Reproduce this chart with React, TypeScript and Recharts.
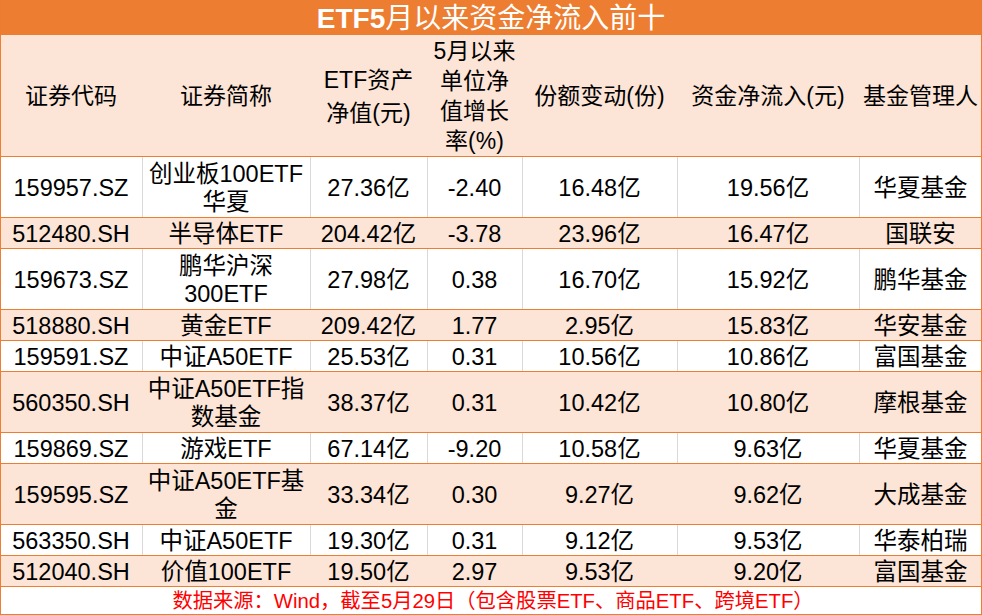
import React from "react";
import {
  ScatterChart,
  Scatter,
  XAxis,
  YAxis,
  ReferenceArea,
  ReferenceLine,
} from "recharts";

const TITLE = "ETF5月以来资金净流入前十";
const TITLE_BOLD = "ETF5";
const FOOTER = "数据来源：Wind，截至5月29日（包含股票ETF、商品ETF、跨境ETF）";

const headers = [
  ["证券代码"],
  ["证券简称"],
  ["ETF资产", "净值(元)"],
  ["5月以来", "单位净", "值增长", "率(%)"],
  ["份额变动(份)"],
  ["资金净流入(元)"],
  ["基金管理人"],
];

const codes = [
  "159957.SZ", "512480.SH", "159673.SZ", "518880.SH", "159591.SZ",
  "560350.SH", "159869.SZ", "159595.SZ", "563350.SH", "512040.SH",
];
const names = [
  "创业板100ETF\n华夏", "半导体ETF", "鹏华沪深\n300ETF", "黄金ETF", "中证A50ETF",
  "中证A50ETF指\n数基金", "游戏ETF", "中证A50ETF基\n金", "中证A50ETF", "价值100ETF",
];
const netAssets = [27.36, 204.42, 27.98, 209.42, 25.53, 38.37, 67.14, 33.34, 19.3, 19.5];
const growth = [-2.4, -3.78, 0.38, 1.77, 0.31, 0.31, -9.2, 0.3, 0.31, 2.97];
const shareChange = [16.48, 23.96, 16.7, 2.95, 10.56, 10.42, 10.58, 9.27, 9.12, 9.53];
const netInflow = [19.56, 16.47, 15.92, 15.83, 10.86, 10.8, 9.63, 9.62, 9.53, 9.2];
const managers = [
  "华夏基金", "国联安", "鹏华基金", "华安基金", "富国基金",
  "摩根基金", "华夏基金", "大成基金", "华泰柏瑞", "富国基金",
];

// layout
const W = 982;
const H = 615;
const COL_W = [142, 168, 117, 95, 155, 182, 123];
const TITLE_H = 35;
const HEADER_H = 122;
const ROW_H_SINGLE = 31;
const ROW_H_DOUBLE = 61;
const HEADER_LH = [0, 0, 33, 30, 0, 0, 0];
const BODY_LH = 28;
const BODY_SIZE = 23.5;

const ORANGE = "#ED7D31";
const PEACH = "#FCE4D6";
const GRID = "#D9D9D9";
const FONT = "'Liberation Sans', Arial, 'Noto Sans CJK SC', sans-serif";

const yi = (v: number) => `${v.toFixed(2)}亿`;

const colEdges = COL_W.reduce<number[]>((acc, w) => [...acc, acc[acc.length - 1] + w], [0]);
const rowLines = names.map((n) => n.split("\n"));
const rowHeights = rowLines.map((l) => (l.length > 1 ? ROW_H_DOUBLE : ROW_H_SINGLE));
const rowEdges = rowHeights.reduce<number[]>(
  (acc, h) => [...acc, acc[acc.length - 1] + h],
  [TITLE_H + HEADER_H]
);
const bodyBottom = rowEdges[rowEdges.length - 1];

type Cell = {
  x: number;
  y: number;
  lines: string[];
  size: number;
  color: string;
  lh: number;
  title?: boolean;
};

const cells: Cell[] = [];
cells.push({ x: W / 2, y: TITLE_H / 2, lines: [TITLE], size: 28, color: "#fff", lh: 0, title: true });
headers.forEach((h, c) =>
  cells.push({
    x: (colEdges[c] + colEdges[c + 1]) / 2,
    y: TITLE_H + HEADER_H / 2,
    lines: h,
    size: 23,
    color: "#000",
    lh: HEADER_LH[c],
  })
);
codes.forEach((code, r) => {
  const texts = [
    [code],
    rowLines[r],
    [yi(netAssets[r])],
    [growth[r].toFixed(2)],
    [yi(shareChange[r])],
    [yi(netInflow[r])],
    [managers[r]],
  ];
  texts.forEach((t, c) =>
    cells.push({
      x: (colEdges[c] + colEdges[c + 1]) / 2,
      y: (rowEdges[r] + rowEdges[r + 1]) / 2,
      lines: t,
      size: BODY_SIZE,
      color: "#000",
      lh: BODY_LH,
    })
  );
});
cells.push({ x: W / 2 + 2, y: (bodyBottom + H) / 2, lines: [FOOTER], size: 20.3, color: "#FF0000", lh: 0 });

function CellText(props: any) {
  const { cx, cy, payload } = props;
  if (cx == null || cy == null) return null;
  const { lines, size, color, lh, title } = payload as Cell;
  const top = cy - ((lines.length - 1) * lh) / 2;
  if (title) {
    return (
      <text x={cx} y={cy} dy="0.36em" textAnchor="middle" fill={color} fontSize={size} fontFamily={FONT}>
        <tspan fontWeight="bold">{TITLE_BOLD}</tspan>
        <tspan>{lines[0].slice(TITLE_BOLD.length)}</tspan>
      </text>
    );
  }
  return (
    <text textAnchor="middle" fill={color} fontSize={size} fontFamily={FONT}>
      {lines.map((line, i) => (
        <tspan key={i} x={cx} y={top + i * lh} dy="0.36em">
          {line}
        </tspan>
      ))}
    </text>
  );
}

export default function App() {
  return (
    <div style={{ position: "absolute", left: 0, top: 0, background: "#fff" }}>
      <ScatterChart width={W} height={H} margin={{ top: 0, right: 0, bottom: 0, left: 0 }}>
        <XAxis type="number" dataKey="x" domain={[0, W]} hide allowDataOverflow />
        <YAxis type="number" dataKey="y" domain={[0, H]} reversed hide allowDataOverflow />
        <ReferenceArea x1={0} x2={W} y1={0} y2={TITLE_H} fill={ORANGE} fillOpacity={1} stroke="none" />
        <ReferenceArea x1={0} x2={W} y1={TITLE_H} y2={TITLE_H + HEADER_H} fill={PEACH} fillOpacity={1} stroke="none" />
        {codes.map((code, r) =>
          r % 2 === 1 ? (
            <ReferenceArea
              key={`bg-${code}`}
              x1={0}
              x2={W}
              y1={rowEdges[r]}
              y2={rowEdges[r + 1]}
              fill={PEACH}
              fillOpacity={1}
              stroke="none"
            />
          ) : null
        )}
        {codes.map((code, r) =>
          r % 2 === 0
            ? colEdges.slice(1, -1).map((x) => (
                <ReferenceLine
                  key={`v-${code}-${x}`}
                  segment={[
                    { x: x + 0.5, y: rowEdges[r] },
                    { x: x + 0.5, y: rowEdges[r + 1] },
                  ]}
                  stroke={GRID}
                  strokeWidth={1}
                />
              ))
            : null
        )}
        {[TITLE_H + HEADER_H, ...rowEdges.slice(1)].map((y) => (
          <ReferenceLine key={`h-${y}`} y={y - 0.5} stroke={ORANGE} strokeWidth={1} />
        ))}
        <ReferenceLine y={H - 0.5} stroke={ORANGE} strokeWidth={1} />
        <ReferenceLine x={0.5} stroke={ORANGE} strokeWidth={1} />
        <ReferenceLine x={W - 0.5} stroke={ORANGE} strokeWidth={1} />
        <Scatter data={cells} shape={CellText} isAnimationActive={false} />
      </ScatterChart>
    </div>
  );
}
